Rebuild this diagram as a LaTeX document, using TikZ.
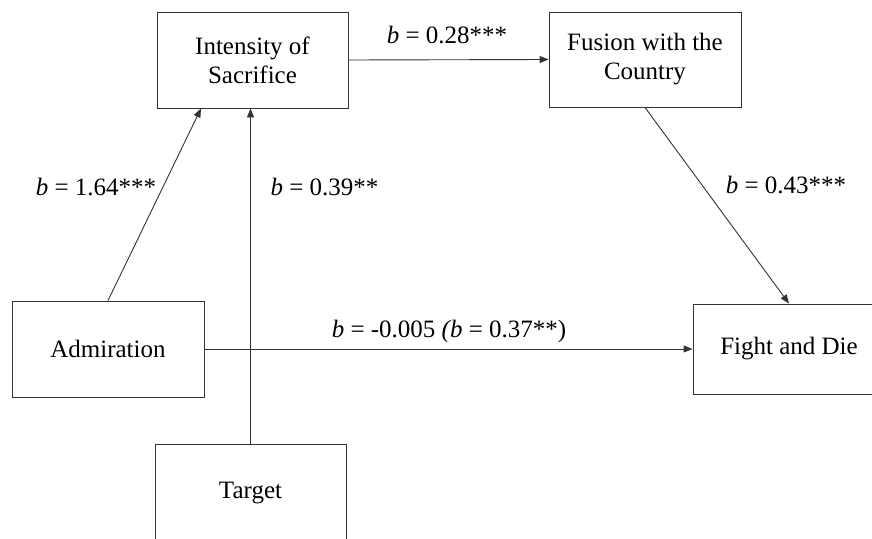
\documentclass[tikz,border=0pt]{standalone}
\usepackage{fontspec}
\setmainfont{Liberation Serif}
\usetikzlibrary{arrows.meta,calc}

\tikzset{
  varbox/.style={draw=black!80, line width=0.9pt, fill=white, minimum width=192pt,
    minimum height=96pt, align=center, inner sep=2pt,
    font=\rmfamily\fontsize{25}{29}\selectfont},
  link/.style={draw=black!80, line width=0.9pt, -{Triangle[length=9pt,width=7pt]}},
  coef/.style={anchor=base, inner sep=0pt, font=\rmfamily\fontsize{25}{29}\selectfont}
}

\begin{document}
\begin{tikzpicture}[x=1pt,y=-1pt]
  \useasboundingbox (0,0) rectangle (872,538);
  \clip (0,0) rectangle (872,538);

  % variables
  \node[varbox, minimum width=191pt] (int) at (252.5,60) {Intensity of\\Sacrifice};
  \node[varbox, minimum height=95pt] (fus) at (645,59.5) {Fusion with the\\Country};
  \node[varbox] (adm) at (108,349) {Admiration};
  \node[varbox, minimum height=90pt] (fight) at (789,349) {Fight and Die};
  \node[varbox, minimum width=191pt, minimum height=98pt] (tgt) at (250.5,493) {Target};

  % paths
  \draw[link] (adm.north) -- ([xshift=-51.5pt]int.south);
  \draw[link] (tgt.north) -- (tgt.north |- int.south);
  \draw[link] (int.east) -- (fus.west);
  \draw[link] (fus.south) -- (fight.north);
  \draw[link] (adm.east) -- (fight.west);

  % coefficients
  \node[coef] (c1) at (447,43) {\textit{b} = 0.28***};
  \node[coef] (c2) at (96,195) {\textit{b} = 1.64***};
  \node[coef] (c3) at (324.5,195) {\textit{b} = 0.39**};
  \node[coef] (c4) at (786,193) {\textit{b} = 0.43***};
  \node[coef] (c5) at (449,337) {\textit{b} = -0.005 \textit{(b} = 0.37**)};
\end{tikzpicture}
\end{document}
